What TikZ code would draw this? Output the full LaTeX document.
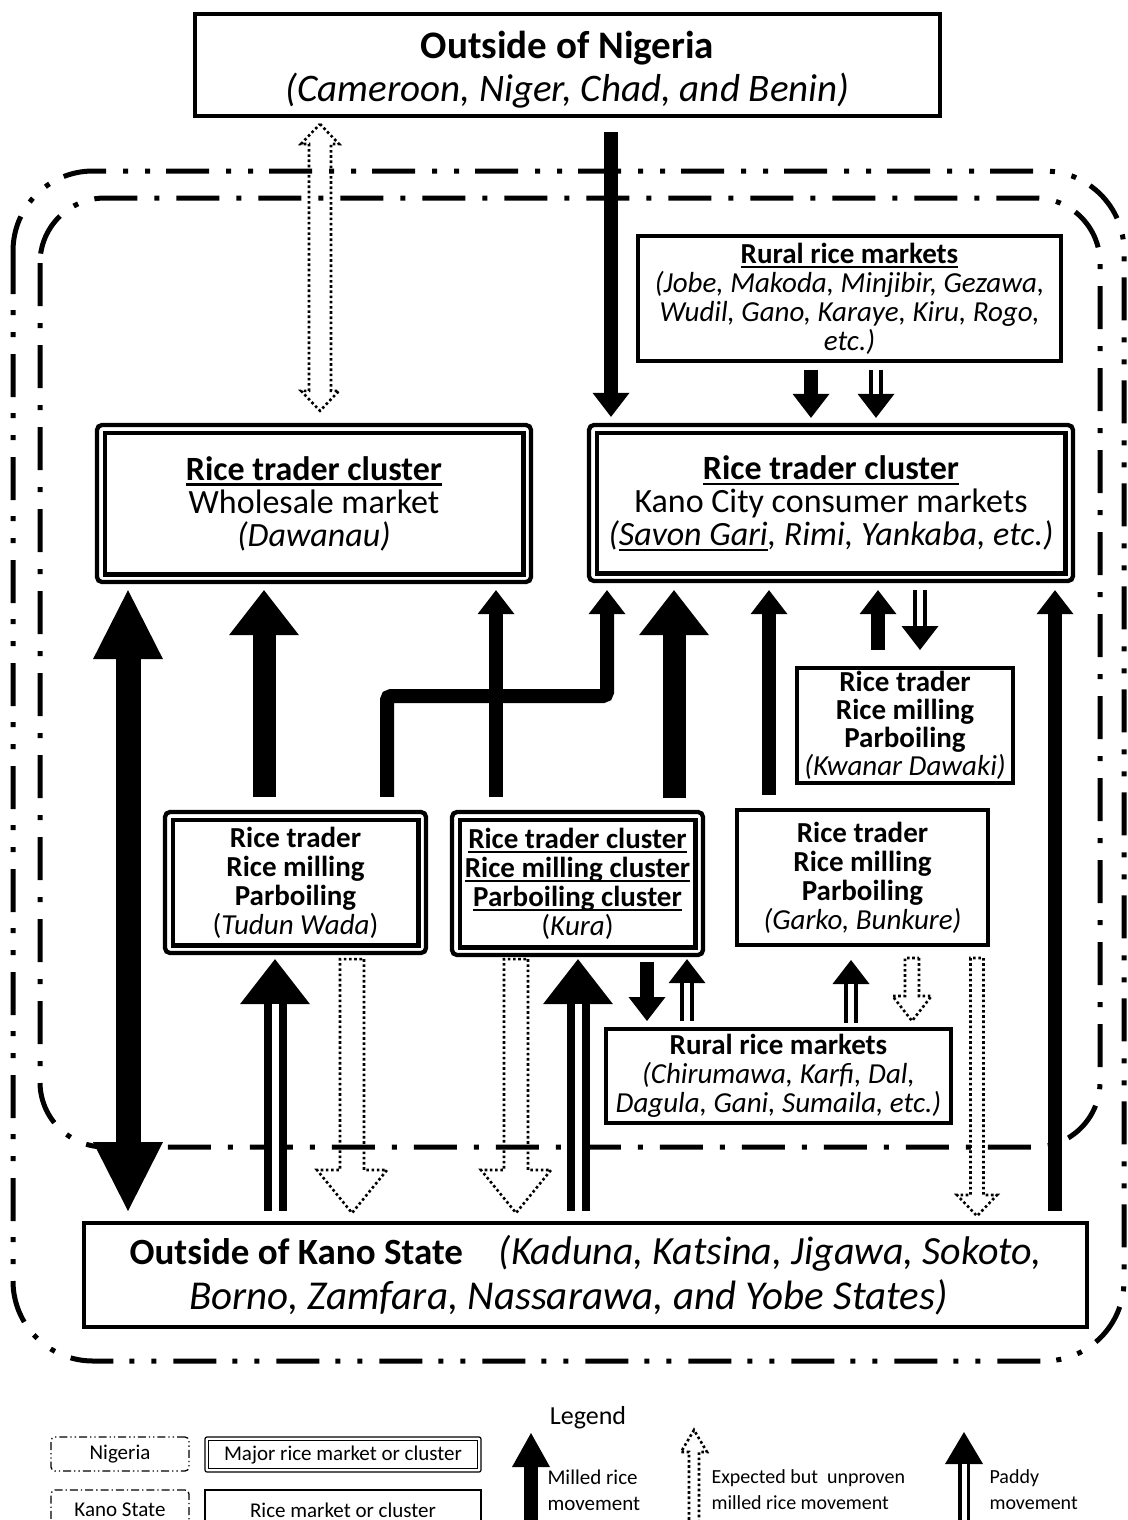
\documentclass[tikz,border=0pt]{standalone}
\usepackage{fontspec}
\setmainfont{Carlito}
\usetikzlibrary{arrows.meta,calc}

\newcommand\fs[2]{\fontsize{#1}{#2}\selectfont}
% underline with a rule scaled to the font
\newcommand\ulin[1]{\leavevmode\setbox0=\hbox{#1}\rlap{\rule[-0.16em]{\wd0}{0.06em}}\box0}

% hollow dotted arrow: #1 tail, #2 tip, #3 shaft half-width, #4 head half-width, #5 head length
\newcommand\hollowarrow[5]{%
  \coordinate (hhb) at ($(#2)!#5!(#1)$);
  \draw[hollow] ($(#1)!#3!90:(#2)$) -- ($(hhb)!#3!90:(#2)$) -- ($(hhb)!#4!90:(#2)$) -- (#2)
    -- ($(hhb)!#4!-90:(#2)$) -- ($(hhb)!#3!-90:(#2)$) -- ($(#1)!#3!-90:(#2)$) -- cycle;}
% hollow dotted arrow with heads at both ends
\newcommand\hollowarrowboth[5]{%
  \coordinate (hha) at ($(#1)!#5!(#2)$);
  \coordinate (hhb) at ($(#2)!#5!(#1)$);
  \draw[hollow] (#1) -- ($(hha)!#4!90:(#2)$) -- ($(hha)!#3!90:(#2)$) -- ($(hhb)!#3!90:(#2)$)
    -- ($(hhb)!#4!90:(#2)$) -- (#2) -- ($(hhb)!#4!-90:(#2)$) -- ($(hhb)!#3!-90:(#2)$)
    -- ($(hha)!#3!-90:(#2)$) -- ($(hha)!#4!-90:(#2)$) -- cycle;}

\tikzset{
  plainbox/.style={draw, fill=white, line width=4pt, inner sep=0pt, align=center},
  majorbox/.style={draw, fill=white, line width=4.3pt, rounded corners=5pt, inner sep=0pt, align=center,
    path picture={\draw[line width=4.6pt, sharp corners]
      ([shift={(7.8pt,7.8pt)}]path picture bounding box.south west) rectangle
      ([shift={(-7.8pt,-7.8pt)}]path picture bounding box.north east);}},
  nigerialine/.style={line width=5pt, dash pattern=on 43pt off 16pt on 5pt off 17pt on 5pt off 17pt},
  kanoline/.style={line width=5pt, dash pattern=on 43pt off 17pt on 5pt off 17pt},
  milledS/.style={line width=14pt, -{Triangle[width=37pt,length=24pt,line width=0pt]}},
  milledL/.style={line width=23pt, -{Triangle[width=70pt,length=45pt,line width=0pt]}},
  bigboth/.style={line width=25pt, {Triangle[width=70pt,length=69pt,line width=0pt]}-{Triangle[width=70pt,length=69pt,line width=0pt]}},
  paddyS/.style={line width=13.5pt, -{Triangle[width=37pt,length=24pt,line width=0pt]}},
  paddySgap/.style={draw=white, line width=6.5pt},
  paddyL/.style={line width=23pt, -{Triangle[width=70pt,length=45pt,line width=0pt]}},
  paddyLgap/.style={draw=white, line width=7pt},
  hollow/.style={line width=2.6pt, dash pattern=on 2.6pt off 2.6pt, line join=miter},
  legnig/.style={draw, line width=1.3pt, rounded corners=4pt, inner sep=0pt,
    dash pattern=on 8pt off 3pt on 1.3pt off 3pt on 1.3pt off 3pt},
  legkano/.style={draw, line width=1.3pt, rounded corners=4pt, inner sep=0pt,
    dash pattern=on 8pt off 3pt on 1.3pt off 3pt},
  legmajor/.style={draw, line width=1.2pt, rounded corners=2pt, inner sep=0pt,
    path picture={\draw[line width=1.6pt, sharp corners]
      ([shift={(3.5pt,3.5pt)}]path picture bounding box.south west) rectangle
      ([shift={(-3.5pt,-3.5pt)}]path picture bounding box.north east);}},
  legplain/.style={draw, line width=1.3pt, inner sep=0pt},
}

\begin{document}
\begin{tikzpicture}[x=1pt, y=-1pt]
\useasboundingbox (0,0) rectangle (1127,1520);
\clip (0,0) rectangle (1127,1520);

% regions
\draw[nigerialine, rounded corners=80pt] (13,171) rectangle (1124,1361);
\draw[kanoline, rounded corners=65pt] (40,198) rectangle (1100,1147);

% boxes
\node[plainbox, minimum width=745, minimum height=102, font=\fs{39}{43}] (ng) at (567.5,65)
  {\rule{0pt}{37pt}\textbf{Outside of Nigeria}\\\textit{(Cameroon, Niger, Chad, and Benin)}};
\node[majorbox, minimum width=434, minimum height=157, font=\fs{34}{33}] (ws) at (314,503.5)
  {\textbf{\ulin{Rice trader cluster}}\\Wholesale market\\\textit{(Dawanau)}};
\node[majorbox, minimum width=484, minimum height=156, font=\fs{34}{33}] (kc) at (831,503)
  {\textbf{\ulin{Rice trader cluster}}\\Kano City consumer markets\\\textit{(\ulin{Savon Gari}, Rimi, Yankaba, etc.)}};
\node[plainbox, minimum width=423, minimum height=125, font=\fs{29}{29}] (rt) at (849.5,298.5)
  {\textbf{\ulin{Rural rice markets}}\\\textit{(Jobe, Makoda, Minjibir, Gezawa,}\\\textit{Wudil, Gano, Karaye, Kiru, Rogo,}\\\textit{etc.)}};
\node[plainbox, minimum width=216, minimum height=115, font=\fs{29}{28}] (kd) at (905,725.5)
  {\textbf{Rice trader}\\\textbf{Rice milling}\\\textbf{Parboiling}\\\textit{(Kwanar Dawaki)}};
\node[majorbox, minimum width=261, minimum height=141, font=\fs{29}{29}] (tw) at (295.5,882.5)
  {\textbf{Rice trader}\\\textbf{Rice milling}\\\textbf{Parboiling}\\(\textit{Tudun Wada})};
\node[majorbox, minimum width=251, minimum height=143, font=\fs{29}{29}] (ku) at (577.5,883.5)
  {\textbf{\ulin{Rice trader cluster}}\\\textbf{\ulin{Rice milling cluster}}\\\textbf{\ulin{Parboiling cluster}}\\(\textit{Kura})};
\node[plainbox, minimum width=251, minimum height=135, font=\fs{29}{29}] (gb) at (862.5,877.5)
  {\textbf{Rice trader}\\\textbf{Rice milling}\\\textbf{Parboiling}\\\textit{(Garko, Bunkure)}};
\node[plainbox, minimum width=345, minimum height=94, font=\fs{29}{29}] (rb) at (778.5,1076)
  {\textbf{Rural rice markets}\\\textit{(Chirumawa, Karfi, Dal,}\\\textit{Dagula, Gani, Sumaila, etc.)}};
\node[plainbox, minimum width=1003, minimum height=104, font=\fs{40}{45}] (ok) at (585.5,1275)
  {{\fontsize{37}{45}\selectfont\textbf{Outside of Kano State}}\hspace{36pt}\textit{(Kaduna, Katsina, Jigawa, Sokoto,}\\{\fontsize{41}{45}\selectfont\textit{Borno, Zamfara, Nassarawa, and Yobe States)}}\hspace*{34pt}};

% columns along which the vertical connectors run
\foreach \cx in {128,264,275,320,352,387,496,516,578,607,611,647,674,687,769,811,851,876,878,912,920,977,1055}
  \coordinate (c\cx) at (\cx,0);
\coordinate (elbow) at (607,696);

% milled rice movement
\draw[milledS, shorten <=14pt, shorten >=6pt] (ng.south -| c611) -- (kc.north -| c611);
\draw[milledS, shorten <=7pt, shorten >=5pt] (rt.south -| c811) -- (kc.north -| c811);
\draw[bigboth, shorten <=6pt, shorten >=10pt] (ws.south -| c128) -- (ok.north -| c128);
\draw[milledL, shorten <=13pt, shorten >=6pt] (tw.north -| c264) -- (ws.south -| c264);
\draw[milledS, shorten <=13pt, shorten >=6pt] (ku.north -| c496) -- (ws.south -| c496);
\draw[milledS, rounded corners=4pt, shorten <=13pt, shorten >=7pt] (tw.north -| c387) |- (elbow) -- (kc.south -| c607);
\draw[milledL, shorten <=12pt, shorten >=7pt] (ku.north -| c674) -- (kc.south -| c674);
\draw[milledS, shorten <=13pt, shorten >=7pt] (gb.north -| c769) -- (kc.south -| c769);
\draw[milledS, shorten <=16pt, shorten >=7pt] (kd.north -| c878) -- (kc.south -| c878);
\draw[milledS, shorten <=10pt, shorten >=7pt] (ok.north -| c1055) -- (kc.south -| c1055);
\draw[milledS, shorten <=5pt, shorten >=6pt] (ku.south -| c647) -- (rb.north -| c647);

% paddy movement
\draw[paddyS, shorten <=7pt, shorten >=5pt] (rt.south -| c876) -- (kc.north -| c876);
\draw[paddySgap, shorten <=7pt, shorten >=29pt] (rt.south -| c876) -- (kc.north -| c876);
\draw[paddyS, shorten <=7pt, shorten >=16pt] (kc.south -| c920) -- (kd.north -| c920);
\draw[paddySgap, shorten <=7pt, shorten >=40pt] (kc.south -| c920) -- (kd.north -| c920);
\draw[paddyL, shorten <=10pt, shorten >=4pt] (ok.north -| c275) -- (tw.south -| c275);
\draw[paddyLgap, shorten <=10pt, shorten >=49pt] (ok.north -| c275) -- (tw.south -| c275);
\draw[paddyL, shorten <=10pt, shorten >=2pt] (ok.north -| c578) -- (ku.south -| c578);
\draw[paddyLgap, shorten <=10pt, shorten >=47pt] (ok.north -| c578) -- (ku.south -| c578);
\draw[paddyS, shorten <=6pt, shorten >=2pt] (rb.north -| c687) -- (ku.south -| c687);
\draw[paddySgap, shorten <=6pt, shorten >=26pt] (rb.north -| c687) -- (ku.south -| c687);
\draw[paddyS, shorten <=4pt, shorten >=13pt] (rb.north -| c851) -- (gb.south -| c851);
\draw[paddySgap, shorten <=4pt, shorten >=37pt] (rb.north -| c851) -- (gb.south -| c851);

% expected but unproven milled rice movement
\coordinate (u1a) at ($(ng.south -| c320)+(0,6)$);
\coordinate (u1b) at ($(ws.north -| c320)+(0,-12)$);
\hollowarrowboth{u1a}{u1b}{11pt}{19pt}{20pt}
\coordinate (u2a) at ($(tw.south -| c352)+(0,4)$);
\coordinate (u2b) at ($(ok.north -| c352)+(0,-8)$);
\hollowarrow{u2a}{u2b}{12pt}{35pt}{43pt}
\coordinate (u3a) at ($(ku.south -| c516)+(0,2)$);
\coordinate (u3b) at ($(ok.north -| c516)+(0,-8)$);
\hollowarrow{u3a}{u3b}{12pt}{35pt}{43pt}
\coordinate (u4a) at ($(gb.south -| c912)+(0,11)$);
\coordinate (u4b) at ($(rb.north -| c912)+(0,-6)$);
\hollowarrow{u4a}{u4b}{7pt}{19.5pt}{25pt}
\coordinate (u5a) at ($(gb.south -| c977)+(0,11)$);
\coordinate (u5b) at ($(ok.north -| c977)+(0,-5)$);
\hollowarrow{u5a}{u5b}{6.5pt}{20pt}{21pt}

% legend
\node[font=\fs{26}{26}] (lg) at (588,1418) {Legend};
\node[legnig, minimum width=138, minimum height=34, font=\fs{21}{21}] (ln) at (120,1454) {Nigeria};
\node[legkano, minimum width=138, minimum height=40, font=\fs{21}{21}] (lk) at (120,1510) {Kano State};
\node[legmajor, minimum width=276, minimum height=35, font=\fs{21}{21}] (lm) at (343,1454.5) {Major rice market or cluster};
\node[legplain, minimum width=276, minimum height=40, font=\fs{21}{21}] (lp) at (343,1510) {Rice market or cluster};

\coordinate (lma) at (531,1525);
\coordinate (lmb) at (531,1433);
\draw[line width=14pt, -{Triangle[width=38pt,length=34pt,line width=0pt]}] (lma) -- (lmb);
\node[anchor=west, align=left, font=\fs{21}{26}] (lmt) at (544,1490) {Milled rice\\movement};

\coordinate (lua) at (694,1525);
\coordinate (lub) at (694,1430);
\hollowarrow{lua}{lub}{5pt}{13pt}{22pt}
\node[anchor=west, align=left, font=\fs{20}{26}] (lut) at (708,1490) {Expected but\ \ unproven\\milled rice movement};

\coordinate (lpa) at (964,1525);
\coordinate (lpb) at (964,1432);
\draw[line width=12pt, -{Triangle[width=38pt,length=32pt,line width=0pt]}] (lpa) -- (lpb);
\draw[draw=white, line width=5pt, shorten >=32pt] (lpa) -- (lpb);
\node[anchor=west, align=left, font=\fs{20}{26}] (lpt) at (986,1490) {Paddy\\movement};
\end{tikzpicture}
\end{document}
